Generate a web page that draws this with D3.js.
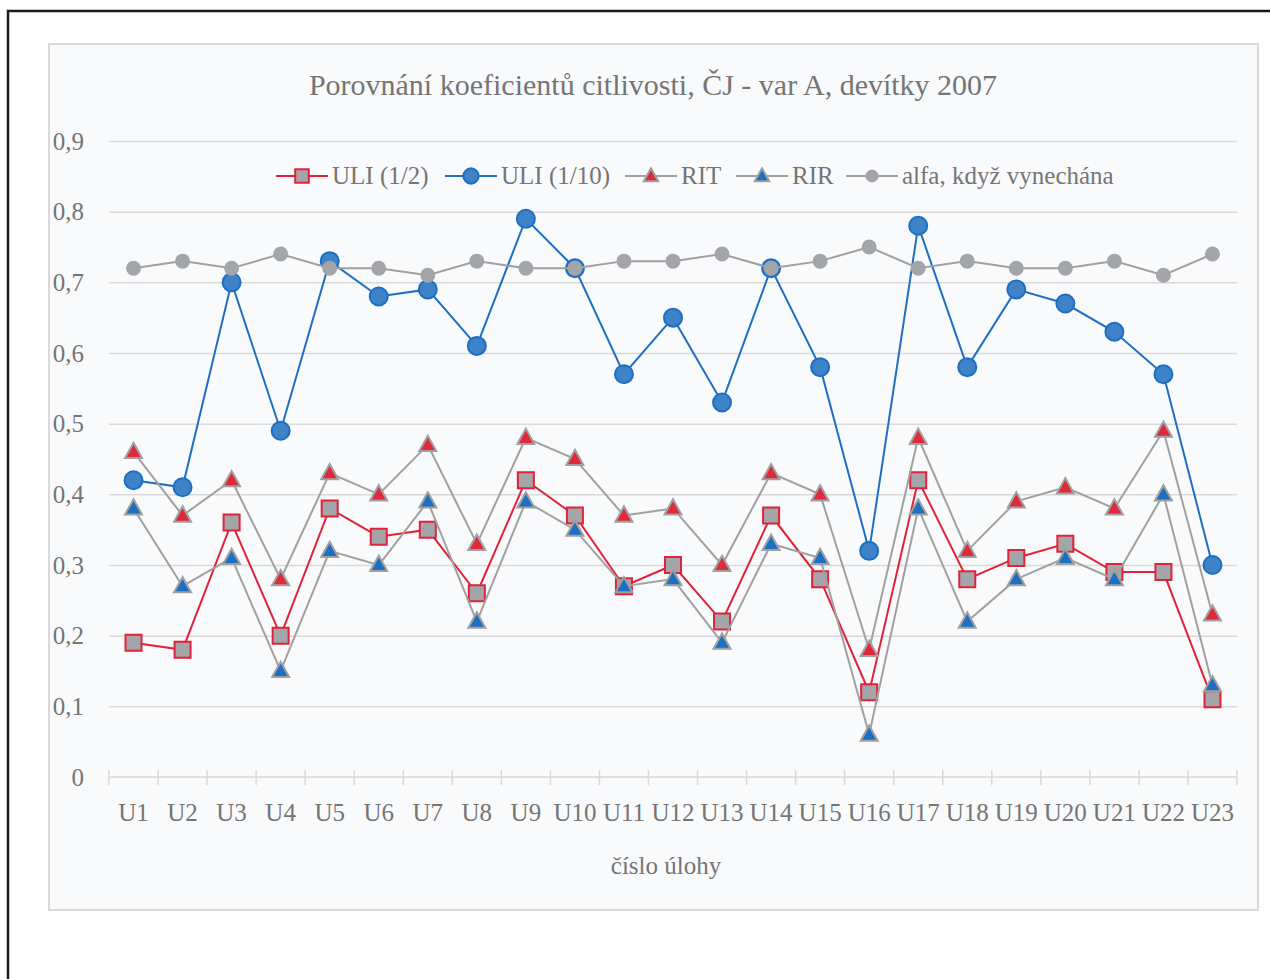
<!DOCTYPE html>
<html>
<head>
<meta charset="utf-8">
<script src="https://cdn.jsdelivr.net/npm/d3@7"></script>
<style>
  body { margin: 0; background: #fff; }
  text { font-family: "Liberation Serif", "DejaVu Serif", serif; fill: #757575; }
</style>
</head>
<body>
<svg id="chart" width="1270" height="979"></svg>
<script>
/* data */
var categories = ["U1","U2","U3","U4","U5","U6","U7","U8","U9","U10","U11","U12","U13","U14","U15","U16","U17","U18","U19","U20","U21","U22","U23"];
var uliHalf  = [0.19,0.18,0.36,0.20,0.38,0.34,0.35,0.26,0.42,0.37,0.27,0.30,0.22,0.37,0.28,0.12,0.42,0.28,0.31,0.33,0.29,0.29,0.11];
var uliTenth = [0.42,0.41,0.70,0.49,0.73,0.68,0.69,0.61,0.79,0.72,0.57,0.65,0.53,0.72,0.58,0.32,0.78,0.58,0.69,0.67,0.63,0.57,0.30];
var rit      = [0.46,0.37,0.42,0.28,0.43,0.40,0.47,0.33,0.48,0.45,0.37,0.38,0.30,0.43,0.40,0.18,0.48,0.32,0.39,0.41,0.38,0.49,0.23];
var rir      = [0.38,0.27,0.31,0.15,0.32,0.30,0.39,0.22,0.39,0.35,0.27,0.28,0.19,0.33,0.31,0.06,0.38,0.22,0.28,0.31,0.28,0.40,0.13];
var alfa     = [0.72,0.73,0.72,0.74,0.72,0.72,0.71,0.73,0.72,0.72,0.73,0.73,0.74,0.72,0.73,0.75,0.72,0.73,0.72,0.72,0.73,0.71,0.74];
var yTicks   = [0,0.1,0.2,0.3,0.4,0.5,0.6,0.7,0.8,0.9];

var series = [
  {name: "ULI (1/2)",  values: uliHalf,  line: "#e0233a", shape: "square",   fill: "#a3a5a8", stroke: "#e0233a", size: 16},
  {name: "ULI (1/10)", values: uliTenth, line: "#1e6fc1", shape: "circle",   fill: "#3e82c8", stroke: "#1e6fc1", size: 18},
  {name: "RIT",        values: rit,      line: "#a0a0a0", shape: "triangle", fill: "#df2a3c", stroke: "#a0a0a0", size: 17},
  {name: "RIR",        values: rir,      line: "#a0a0a0", shape: "triangle", fill: "#1e6fc1", stroke: "#a0a0a0", size: 17},
  {name: "alfa, když vynechána", values: alfa, line: "#a0a0a0", shape: "circle", fill: "#a3a5a8", stroke: "#a3a5a8", size: 13}
];

var svg = d3.select("#chart");

/* outer frame */
svg.append("path")
  .attr("d", "M8,979 L8,11 L1270,11")
  .attr("fill", "none").attr("stroke", "#1a1a1a").attr("stroke-width", 2.5);

/* chart area */
svg.append("rect")
  .attr("x", 49).attr("y", 44).attr("width", 1209).attr("height", 866)
  .attr("fill", "#f9fafc").attr("stroke", "#d9d9d9").attr("stroke-width", 2);

var margin = {left: 109, right: 1237, top: 141, bottom: 777};

var x = d3.scaleBand().domain(categories).range([margin.left, margin.right]);
var y = d3.scaleLinear().domain([0, 0.9]).range([margin.bottom, margin.top]);

/* title */
svg.append("text")
  .attr("x", 653).attr("y", 95)
  .attr("text-anchor", "middle")
  .style("font-size", "30px")
  .text("Porovnání koeficientů citlivosti, ČJ - var A, devítky 2007");

/* gridlines + y labels */
var yAxis = d3.axisLeft(y).tickValues(yTicks).tickSize(-(margin.right - margin.left))
  .tickFormat(function(d) { return d === 0 ? "0" : d3.format(".1f")(d).replace(".", ","); });

var yG = svg.append("g")
  .attr("transform", "translate(" + margin.left + ",0)")
  .call(yAxis);
yG.select(".domain").remove();
yG.selectAll(".tick line").attr("stroke", "#d9d9d9").attr("stroke-width", 1.5)
  .filter(function(d) { return d === 0; }).remove();
yG.selectAll(".tick text")
  .attr("x", -25)
  .style("font-size", "25px")
  .style("font-family", "'Liberation Serif', serif")
  .attr("fill", "#757575");

/* x axis */
var xG = svg.append("g").attr("transform", "translate(0," + margin.bottom + ")");
xG.append("line")
  .attr("x1", margin.left).attr("x2", margin.right)
  .attr("stroke", "#d9d9d9").attr("stroke-width", 1.5);
var bounds = categories.map(function(c) { return x(c); }).concat([margin.right]);
xG.selectAll(".xtick").data(bounds).enter().append("line")
  .attr("x1", function(d) { return d; }).attr("x2", function(d) { return d; })
  .attr("y1", -7).attr("y2", 8)
  .attr("stroke", "#d9d9d9").attr("stroke-width", 1.5);
xG.selectAll(".xlabel").data(categories).enter().append("text")
  .attr("x", function(d) { return x(d) + x.bandwidth() / 2; })
  .attr("y", 44)
  .attr("text-anchor", "middle")
  .style("font-size", "25px")
  .text(function(d) { return d; });

svg.append("text")
  .attr("x", 666).attr("y", 874)
  .attr("text-anchor", "middle")
  .style("font-size", "25px")
  .text("číslo úlohy");

/* markers */
function markerPath(shape, s) {
  if (shape === "square") return "M" + (-s/2) + "," + (-s/2) + "h" + s + "v" + s + "h" + (-s) + "Z";
  if (shape === "triangle") {
    var h = s * 0.9;
    return "M0," + (-h * 0.6) + "L" + (s/2) + "," + (h * 0.4) + "L" + (-s/2) + "," + (h * 0.4) + "Z";
  }
  var r = s / 2;
  return "M" + r + ",0A" + r + "," + r + " 0 1,1 " + (-r) + ",0A" + r + "," + r + " 0 1,1 " + r + ",0Z";
}

var line = d3.line()
  .x(function(d, i) { return x(categories[i]) + x.bandwidth() / 2; })
  .y(function(d) { return y(d); });

series.forEach(function(s) {
  var g = svg.append("g").attr("class", "series");
  g.append("path")
    .datum(s.values)
    .attr("d", line)
    .attr("fill", "none")
    .attr("stroke", s.line)
    .attr("stroke-width", 2);
  g.selectAll("path.marker").data(s.values).enter().append("path")
    .attr("class", "marker")
    .attr("transform", function(d, i) {
      return "translate(" + (x(categories[i]) + x.bandwidth() / 2) + "," + y(d) + ")";
    })
    .attr("d", markerPath(s.shape, s.size))
    .attr("fill", s.fill)
    .attr("stroke", s.stroke)
    .attr("stroke-width", 2);
});

/* legend */
var legendX = [276, 445, 625, 736, 846];
var lg = svg.append("g").attr("class", "legend");
series.forEach(function(s, i) {
  var it = lg.append("g").attr("transform", "translate(" + legendX[i] + ",176)");
  it.append("line").attr("x1", 0).attr("x2", 52).attr("stroke", s.line).attr("stroke-width", 2);
  it.append("path")
    .attr("transform", "translate(26,0)")
    .attr("d", markerPath(s.shape, s.size * 0.85))
    .attr("fill", s.fill).attr("stroke", s.stroke).attr("stroke-width", 2);
  it.append("text")
    .attr("x", 56).attr("y", 8)
    .style("font-size", "25px")
    .text(s.name);
});
</script>
</body>
</html>
